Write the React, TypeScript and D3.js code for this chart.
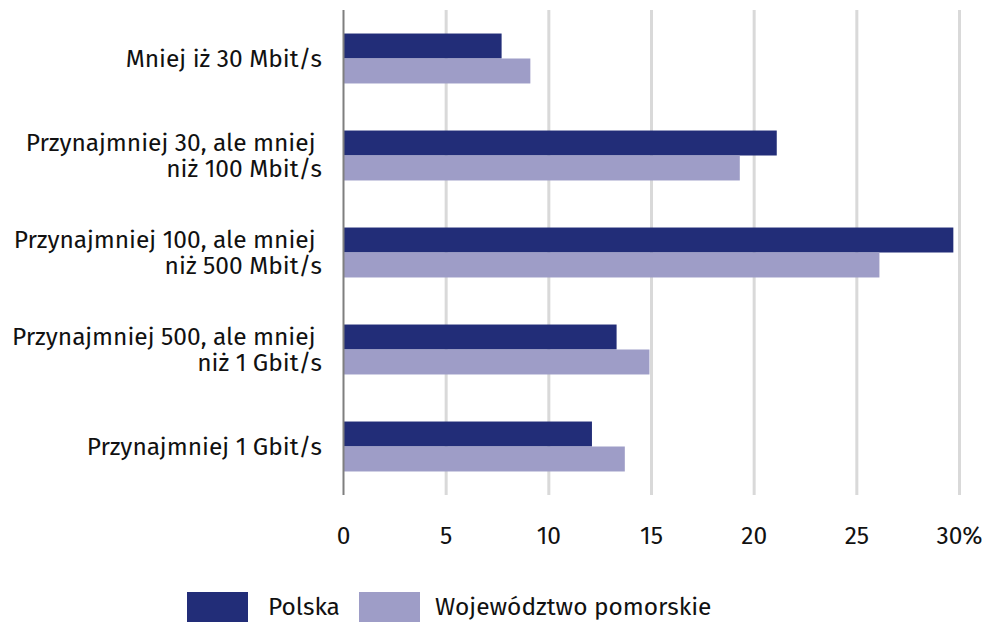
import React, { useRef, useEffect } from "react";
import * as d3 from "d3";

// category labels (lines)
const categories = [
  ["Mniej iż 30 Mbit/s"],
  ["Przynajmniej 30, ale mniej ", "niż 100 Mbit/s"],
  ["Przynajmniej 100, ale mniej ", "niż 500 Mbit/s"],
  ["Przynajmniej 500, ale mniej ", "niż 1 Gbit/s"],
  ["Przynajmniej 1 Gbit/s"],
];
const polska = [7.7, 21.1, 29.7, 13.3, 12.1];
const pomorskie = [9.1, 19.3, 26.1, 14.9, 13.7];
const ticks = [0, 5, 10, 15, 20, 25, 30];
const tickLabels = ["0", "5", "10", "15", "20", "25", "30%"];
const seriesNames = ["Polska", "Województwo pomorskie"];
const colors = ["#222d78", "#9e9dc7"];

const FONT = "'Fira Sans', 'Noto Sans', sans-serif";
const FS = 24.5;

const BarChart = () => {
  const svgRef = useRef<SVGSVGElement>(null);

  useEffect(() => {
    const svg = d3.select(svgRef.current);
    svg.selectAll("*").remove();

    const width = 985;
    const height = 622;
    const margin = { top: 10, left: 343.5, right: 25.5, bottom: 127 };

    const x = d3
      .scaleLinear()
      .domain([0, 30])
      .range([margin.left, width - margin.right]);

    const y = d3
      .scaleBand<number>()
      .domain(d3.range(categories.length))
      .range([margin.top, height - margin.bottom])
      .paddingInner(0.485)
      .paddingOuter(0.2425);

    svg.attr("width", width).attr("height", height);

    // gridlines
    svg
      .append("g")
      .selectAll("line")
      .data(ticks.filter((t) => t > 0))
      .join("line")
      .attr("x1", (d) => x(d))
      .attr("x2", (d) => x(d))
      .attr("y1", margin.top)
      .attr("y2", height - margin.bottom)
      .attr("stroke", "#d9d9d9")
      .attr("stroke-width", 3);

    const bh = y.bandwidth() / 2;

    // bars
    [polska, pomorskie].forEach((vals, s) => {
      svg
        .append("g")
        .selectAll("rect")
        .data(vals)
        .join("rect")
        .attr("x", x(0))
        .attr("y", (d, i) => (y(i) as number) + s * bh)
        .attr("width", (d) => x(d) - x(0))
        .attr("height", bh)
        .attr("fill", colors[s]);
    });

    // axis line at 0
    svg
      .append("line")
      .attr("x1", x(0))
      .attr("x2", x(0))
      .attr("y1", margin.top)
      .attr("y2", height - margin.bottom)
      .attr("stroke", "#7f7f7f")
      .attr("stroke-width", 2);

    // x tick labels
    svg
      .append("g")
      .selectAll("text")
      .data(ticks)
      .join("text")
      .attr("x", (d) => x(d))
      .attr("y", 535)
      .attr("dy", "0.35em")
      .attr("text-anchor", "middle")
      .attr("font-family", FONT)
      .attr("font-size", FS)
      .attr("fill", "#111")
      .text((d, i) => tickLabels[i]);

    // category labels
    const lineH = 26.5;
    categories.forEach((lines, i) => {
      const cy = (y(i) as number) + y.bandwidth() / 2;
      const start = cy - ((lines.length - 1) * lineH) / 2;
      const t = svg
        .append("text")
        .attr("text-anchor", "end")
        .attr("font-family", FONT)
        .attr("font-size", FS)
        .attr("fill", "#111")
        .style("white-space", "pre");
      lines.forEach((ln, j) => {
        t.append("tspan")
          .attr("x", 322)
          .attr("y", start + j * lineH)
          .attr("dy", "0.35em")
          .text(ln);
      });
    });

    // legend
    const legendX = [187, 359];
    const legendTextX = [268, 435];
    seriesNames.forEach((name, i) => {
      svg
        .append("rect")
        .attr("x", legendX[i])
        .attr("y", 592)
        .attr("width", 61)
        .attr("height", 30)
        .attr("fill", colors[i]);
      svg
        .append("text")
        .attr("x", legendTextX[i])
        .attr("y", 606)
        .attr("dy", "0.35em")
        .attr("font-family", FONT)
        .attr("font-size", FS)
        .attr("fill", "#111")
        .text(name);
    });
  }, []);

  return <svg ref={svgRef} style={{ position: "absolute", left: 0, top: 0 }}></svg>;
};

export default function App() {
  return <BarChart />;
}
